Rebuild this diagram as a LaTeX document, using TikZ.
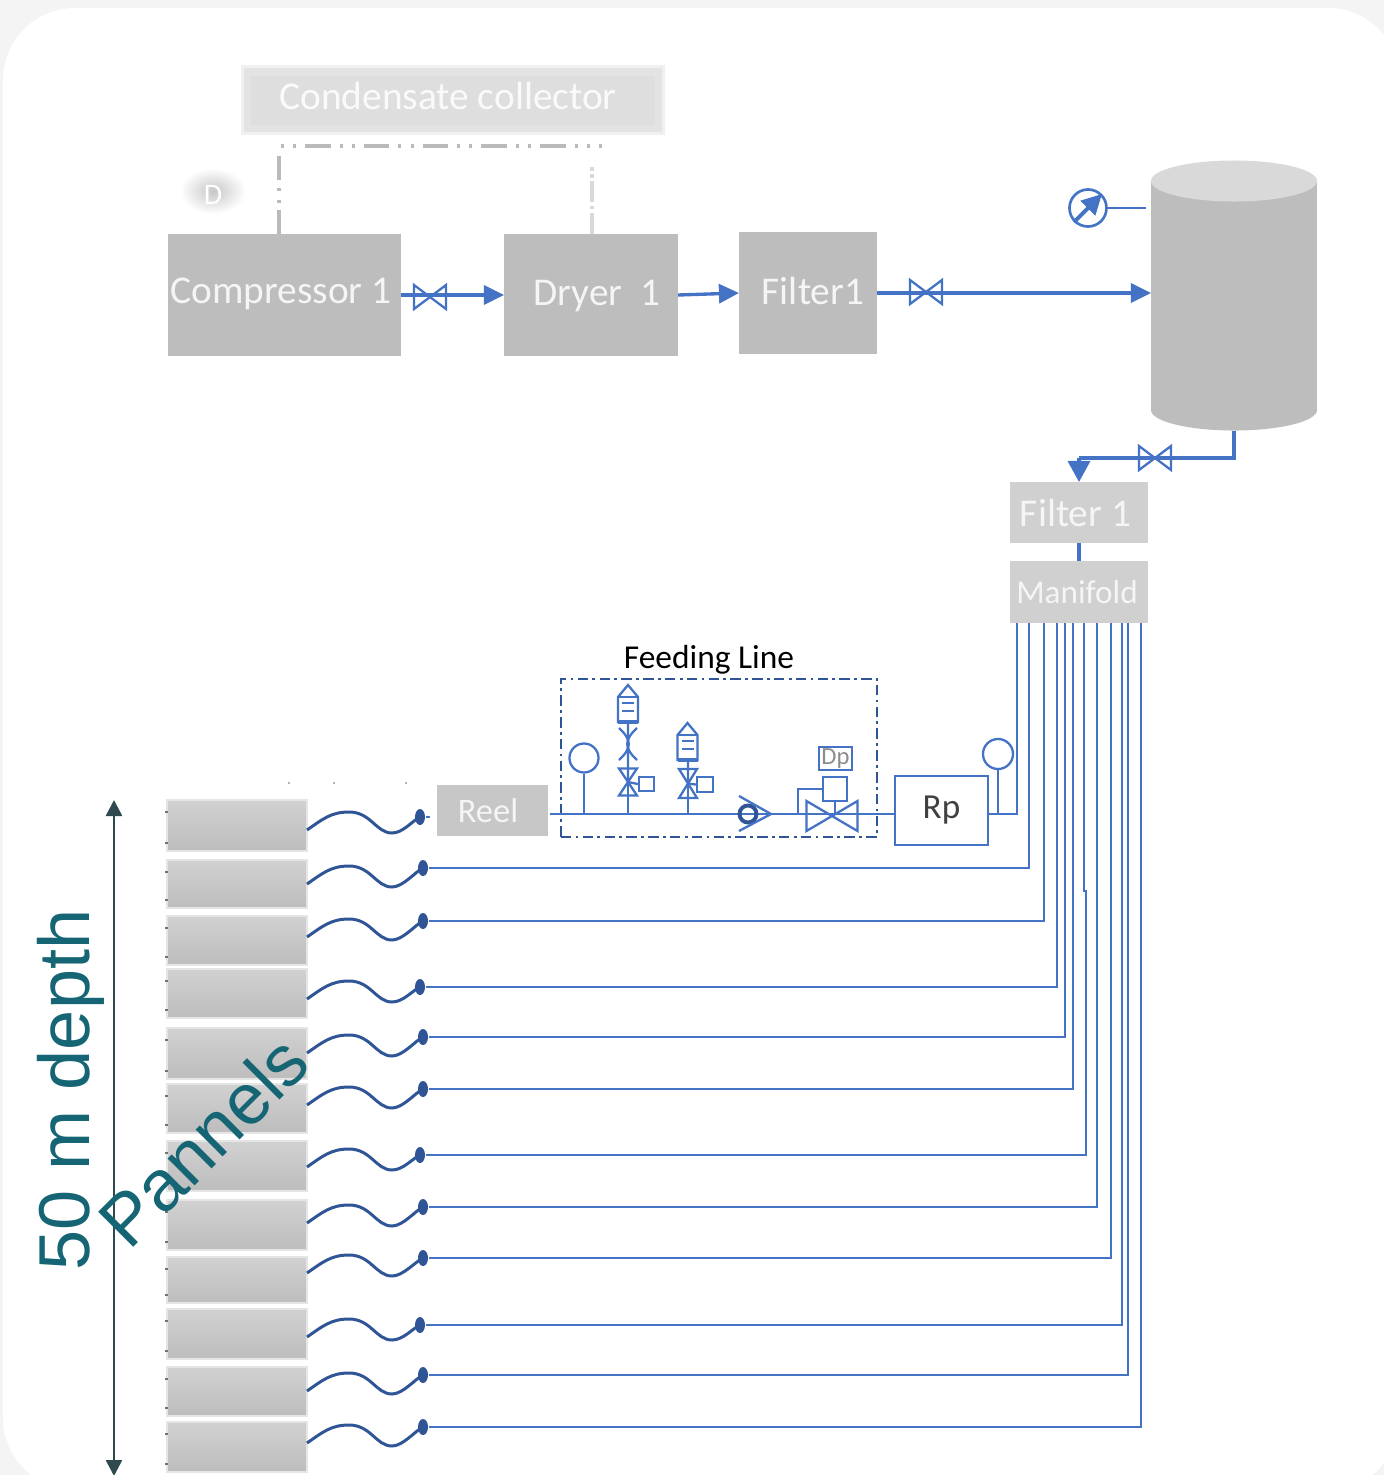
\documentclass[tikz,border=0pt]{standalone}
\usepackage{fontspec}
\setmainfont{Carlito}
\newfontfamily\labelfont{Liberation Sans}
\usetikzlibrary{arrows.meta, positioning, shapes.geometric}
\definecolor{cblue}{HTML}{4472C4}
\definecolor{cwire}{HTML}{2F5597}
\definecolor{cgrey}{HTML}{BDBDBD}
\definecolor{clight}{HTML}{D0D0D0}
\definecolor{cteal}{HTML}{156575}
\definecolor{cdark}{HTML}{2E4A4F}
\definecolor{cpage}{HTML}{F4F4F4}
\tikzset{
  every picture/.style={line width=0.65pt},
  unit/.style={fill=#1, inner sep=0pt, outer sep=0pt},
  unit/.default=cgrey,
  boxtext/.style={text=white!96!black, font=\fontsize{11.2}{13}\selectfont, inner sep=0pt},
  panel/.style={draw=black!10, line width=0.6pt, top color=black!18, bottom color=black!26, inner sep=0pt, minimum width=1.4cm},
  plug/.style={ellipse, fill=cwire, inner sep=0pt, minimum width=0.1cm, minimum height=0.16cm},
  pipe/.style={draw=cblue, line width=0.95pt},
  flow/.style={pipe, -{Triangle[length=2mm, width=1.9mm]}},
  feed/.style={draw=cblue, line width=0.65pt},
  wire/.style={draw=cwire, line width=0.85pt},
  drain/.style={draw=black!27, line width=0.9pt},
  gaugering/.style={circle, draw=cblue, inner sep=0pt, line width=0.65pt},
  symbolbox/.style={draw=cblue, inner sep=0pt, line width=0.65pt},
  bigtext/.style={text=cteal, font=\labelfont\fontsize{20.5}{25}\selectfont},
  valve/.pic={\draw[cblue] (-1,-1) -- (1,1) -- (1,-1) -- (-1,1) -- cycle;},
  vvalve/.pic={\draw[cblue] (-1,-1) -- (1,-1) -- (-1,1) -- (1,1) -- cycle;},
  separator/.pic={
    \draw[cblue] (0,0) -- (10,12) -- (10,37) -- (-10,37) -- (-10,12) -- cycle;
    \draw[cblue] (-10,12) -- (10,12) (-6,18) -- (6,18) (-6,26) -- (6,26);
    \draw[cblue, line width=1.1pt] (-10,37) -- (10,37);
  },
}

\begin{document}
\begin{tikzpicture}[x=0.01cm, y=-0.01cm]
  \useasboundingbox (0,0) rectangle (1384,1475);
  \clip (0,0) rectangle (1384,1475);
  \fill[cpage] (0,0) rectangle (1384,1475);
  \fill[white, rounded corners=0.72cm] (3,8) rectangle (1400,1490);

  % upper train
  \node[unit={black!13}, draw=black!11, line width=2pt, preaction={draw=black!6, line width=4pt}, minimum width=4.1cm, minimum height=0.56cm,
    label={[boxtext, text=black!2, xshift=-0.05cm, yshift=0.04cm]center:Condensate collector}] (collector) at (453,100) {};
  \node[unit, minimum width=2.33cm, minimum height=1.22cm, label={[boxtext, xshift=-0.035cm, yshift=0.01cm]center:Compressor 1}] (comp) at (284.5,295) {};
  \node[unit, minimum width=1.74cm, minimum height=1.22cm, label={[boxtext, xshift=0.06cm, yshift=-0.01cm]center:Dryer\ \ 1}] (dryer) at (591,295) {};
  \node[unit, minimum width=1.38cm, minimum height=1.22cm, label={[boxtext, xshift=0.05cm, yshift=0.02cm]center:Filter1}] (filterA) at (808,293) {};
  \node[ellipse, inner sep=0pt, minimum width=0.66cm, minimum height=0.46cm, inner color=black!22, outer color=white,
    label={[boxtext, text=white, font=\fontsize{8.5}{10}\selectfont, yshift=-0.04cm]center:D}] (drain) at (213,191) {};

  \coordinate (compup) at (279,234);
  \coordinate (compcorner) at (279,154);
  \coordinate (collectstart) at (281,146);
  \coordinate (dryerup) at (592,234);
  \coordinate (dryerend) at (592,167);
  \coordinate (collectend) at (602,146);
  \draw[drain, dash pattern=on 6.8pt off 2pt on 0.85pt off 2.5pt on 0.85pt off 2.3pt on 6.8pt off 2pt] (compup) -- (compcorner);
  \draw[drain, dash pattern=on 7.2pt off 2.6pt on 0.85pt off 2.6pt on 0.85pt off 2.6pt, dash phase=9.8pt] (collectstart) -- (collectend);
  \draw[drain, draw=black!15, dash pattern=on 6pt off 1pt on 1pt off 1pt] (dryerup) -- (dryerend);

  % tank
  \node[ellipse, fill=cgrey, minimum width=1.66cm, minimum height=0.41cm, inner sep=0pt, outer sep=0pt] (tankbase) at (1234,410) {};
  \node[fill=cgrey, minimum width=1.66cm, minimum height=2.29cm, inner sep=0pt, outer sep=0pt] (tank) at (1234,295) {};
  \node[ellipse, fill=black!15, minimum width=1.66cm, minimum height=0.41cm, inner sep=0pt] (tanktop) at (1234,181) {};

  \draw[flow] (comp.east) -- (dryer.west);
  \draw[flow] (dryer.east) -- (filterA.west);
  \draw[flow] (filterA.east) -- (tank.west |- filterA.east);
  \pic[xscale=16, yscale=12] at (430,297) {valve};
  \pic[xscale=16, yscale=12] at (926,292) {valve};

  \node[gaugering, minimum size=0.37cm, line width=0.75pt] (press) at (1088,208) {};
  \coordinate (pressend) at (1146,208);
  \draw[feed] (press.east) -- (pressend);
  \draw[cblue, line width=1.1pt, -{Triangle[length=2mm, width=2mm]}] (press.south west) -- (press.north east);

  % header
  \node[unit=clight, minimum width=1.38cm, minimum height=0.61cm, label={[boxtext, xshift=-0.035cm]center:Filter 1}] (filterB) at (1079,512.5) {};
  \node[unit=clight, minimum width=1.38cm, minimum height=0.62cm, label={[boxtext, font=\fontsize{9.45}{11}\selectfont, xshift=-0.02cm]center:Manifold}] (manifold) at (1079,592) {};
  \coordinate (tankturn) at (1079,458);
  \draw[pipe] (tankbase.south) |- (tankturn);
  \draw[flow, -{Triangle[length=2.1mm, width=2.2mm]}] (tankturn) -- (filterB.north);
  \draw[pipe] (filterB.south) -- (manifold.north);
  \pic[xscale=16, yscale=12] at (1155,458) {valve};

  % feeding line
  \node[font=\fontsize{9.5}{11}\selectfont] (feedlabel) at (709,660) {Feeding Line};
  \node[draw=cwire, dash pattern=on 3pt off 1.2pt on 0.8pt off 1.2pt, minimum width=3.16cm, minimum height=1.58cm, inner sep=0pt] (feedbox) at (719,758) {};
  \node[unit=black!22, minimum width=1.11cm, minimum height=0.51cm, label={[boxtext, font=\fontsize{9.8}{11}\selectfont, xshift=-0.045cm]center:Reel}] (reel) at (492.5,810.5) {};
  \node[symbolbox, outer sep=0pt, minimum width=0.93cm, minimum height=0.69cm, text=black!75, font=\fontsize{10}{12}\selectfont] (rp) at (941.5,810.5) {Rp};
  \coordinate (feedin) at (550,814);
  \coordinate (feedout) at (895,814);
  \coordinate (rpout) at (988,814);
  \draw[feed] (feedin) -- (feedout);

  \node[gaugering, minimum size=0.29cm] (gaugeA) at (584,758) {};
  \node[gaugering, minimum size=0.3cm] (gaugeB) at (998,754) {};
  \draw[feed] (gaugeA.south) -- (gaugeA.south |- feedin);
  \draw[feed] (gaugeB.south) -- (gaugeB.south |- rpout);

  \pic at (628,685) {separator};
  \pic at (687.5,723) {separator};
  \pic[xscale=9, yscale=13.5] at (628,782) {vvalve};
  \pic[xscale=9, yscale=14.5] at (688,783.5) {vvalve};
  \node[symbolbox, minimum width=0.15cm, minimum height=0.14cm] (solA) at (646.5,784) {};
  \node[symbolbox, minimum width=0.16cm, minimum height=0.15cm] (solB) at (705,784.5) {};
  \coordinate (valveA) at (628,782);
  \coordinate (valveB) at (688,783.5);
  \draw[feed] (628,722) -- (valveA) -- (solA.west);
  \draw[feed] (valveA) -- (valveA |- feedin);
  \draw[feed] (688,760) -- (valveB) -- (solB.west);
  \draw[feed] (valveB) -- (valveB |- feedin);
  \draw[cblue] (619,728) .. controls (632,740) and (632,748) .. (619,760);
  \draw[cblue] (637,728) .. controls (624,740) and (624,748) .. (637,760);

  % check valve
  \node[circle, draw=cwire, line width=1.1pt, inner sep=0pt, minimum size=0.17cm] (check) at (748,814) {};
  \draw[cblue] (739,796) -- (771,814) -- (739,831);

  % control valve
  \pic[xscale=25.5, yscale=15] at (832,816) {valve};
  \node[symbolbox, minimum width=0.24cm, minimum height=0.24cm] (actuator) at (835,789) {};
  \node[symbolbox, minimum width=0.33cm, minimum height=0.23cm, text=black!45, font=\fontsize{7}{8}\selectfont] (dp) at (835.5,758.5) {Dp};
  \draw[feed] (actuator.south) -- (actuator.south |- feedin);
  \draw[feed] (798,814) |- (actuator.west);

  % panels
  \foreach \n/\t/\b in {1/800/851, 2/860/908, 3/916/965, 4/969/1018, 5/1028/1079, 6/1084/1133,
      7/1141/1191, 8/1200/1250, 9/1257/1303, 10/1309/1359, 11/1367/1416, 12/1422/1472} {
    \node[panel, minimum height={(\b-\t)*0.01cm}] (pan\n) at (237,{(\t+\b)/2}) {};
    \draw[black!55] (165,\t+12) -- (168,\t+12) (165,\b-8) -- (168,\b-8);
  }
  \foreach \p in {289,334,406} \fill[black!40] (\p,783) circle (0.012cm);

  % plugs and cables
  \foreach \n/\px/\py/\off in {1/420/817/13, 2/423/868/16, 3/423/921/16, 4/420/987/12, 5/423/1037/16, 6/423/1089/16,
      7/420/1155/12, 8/423/1207/16, 9/423/1258/15, 10/420/1325/12, 11/423/1375/16, 12/423/1427/16} {
    \node[plug] (p\n) at (\px,\py) {};
    \coordinate (w\n) at (307,\py+\off);
    \draw[wire] (w\n) .. controls +(16,-11) and +(-18,0) .. ++(42,-18)
      .. controls +(22,0) and +(-16,0) .. ++(43,21)
      .. controls +(11,0) and +(-8,4) .. (p\n.center);
  }
  \coordinate (stub) at (430,817);
  \draw[feed] (p1.east) -- (stub);

  % manifold branches
  \foreach \n/\mx in {2/1029, 3/1044, 4/1057, 5/1065, 6/1073, 8/1097, 9/1111, 10/1122, 11/1128, 12/1141} {
    \coordinate (m\n) at (\mx,623);
    \draw[feed] (m\n) |- (p\n.east);
  }
  \coordinate (m1) at (1017,623);
  \draw[feed] (rpout) -| (m1);
  \coordinate (m7) at (1084,623);
  \coordinate (jog) at (1086,891);
  \draw[feed] (m7) |- (jog) |- (p7.east);

  % depth
  \coordinate (depthtop) at (114,800);
  \coordinate (depthend) at (114,1476);
  \draw[cdark, line width=0.75pt, {Triangle[length=1.6mm, width=1.6mm]}-{Triangle[length=1.6mm, width=1.6mm]}] (depthtop) -- (depthend);
  \node[bigtext, rotate=90] (depthlabel) at (71,1090) {50 m depth};
  \node[bigtext, rotate=45] (panlabel) at (203,1141) {Pannels};
\end{tikzpicture}
\end{document}
